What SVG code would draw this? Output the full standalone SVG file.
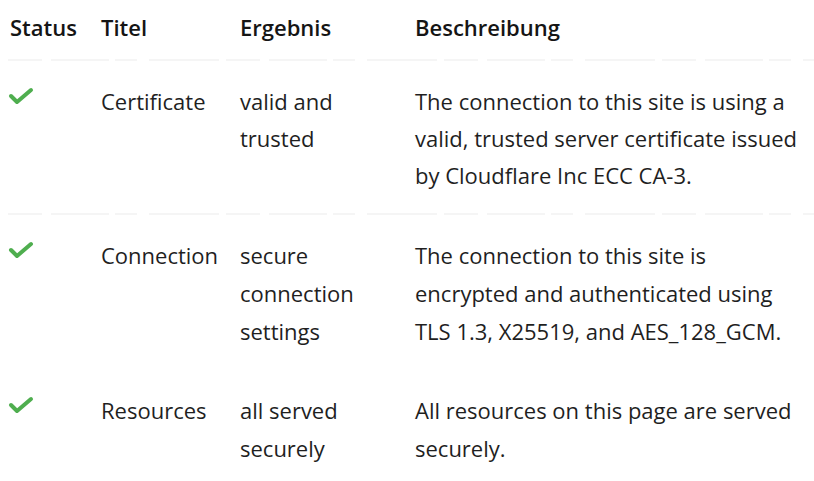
<svg xmlns="http://www.w3.org/2000/svg" width="814" height="481" viewBox="0 0 814 481">
  <style>
    text { font-family: "Open Sans", "Noto Sans", "Liberation Sans", sans-serif; font-size: 22px; fill: #1f1f1f; }
    .head { font-weight: 600; fill: #151515; }
    .rule { stroke: #ececec; stroke-width: 1.2; stroke-dasharray: 34 9 58 6 22 12 70 7; }
  </style>
  <defs>
    <!-- green check mark used in the status column -->
    <path id="check" d="M0,7 L6,13 L20,1" fill="none" stroke="#4fae4f" stroke-width="4" stroke-linecap="round" stroke-linejoin="round"/>
  </defs>
  <rect width="814" height="481" fill="#ffffff"/>

  <!-- header row -->
  <g id="header">
    <text class="head" x="10" y="36">Status</text>
    <text class="head" x="101" y="36">Titel</text>
    <text class="head" x="240" y="36">Ergebnis</text>
    <text class="head" x="415" y="36">Beschreibung</text>
  </g>

  <!-- row separators -->
  <g id="rules">
    <line class="rule" x1="8" y1="60" x2="814" y2="60"/>
    <line class="rule" x1="8" y1="214" x2="814" y2="214"/>
  </g>

  <!-- row: certificate -->
  <g id="row-certificate">
    <use href="#check" x="11" y="89"/>
    <text x="101" y="110">Certificate</text>
    <text x="240" y="110">valid and</text>
    <text x="240" y="147">trusted</text>
    <text x="415" y="110">The connection to this site is using a</text>
    <text x="415" y="147">valid, trusted server certificate issued</text>
    <text x="415" y="184">by Cloudflare Inc ECC CA-3.</text>
  </g>

  <!-- row: connection -->
  <g id="row-connection">
    <use href="#check" x="11" y="243"/>
    <text x="101" y="264">Connection</text>
    <text x="240" y="264">secure</text>
    <text x="240" y="302">connection</text>
    <text x="240" y="340">settings</text>
    <text x="415" y="264">The connection to this site is</text>
    <text x="415" y="302">encrypted and authenticated using</text>
    <text x="415" y="340">TLS 1.3, X25519, and AES_128_GCM.</text>
  </g>

  <!-- row: resources -->
  <g id="row-resources">
    <use href="#check" x="11" y="398"/>
    <text x="101" y="419">Resources</text>
    <text x="240" y="419">all served</text>
    <text x="240" y="457">securely</text>
    <text x="415" y="419">All resources on this page are served</text>
    <text x="415" y="457">securely.</text>
  </g>
</svg>
